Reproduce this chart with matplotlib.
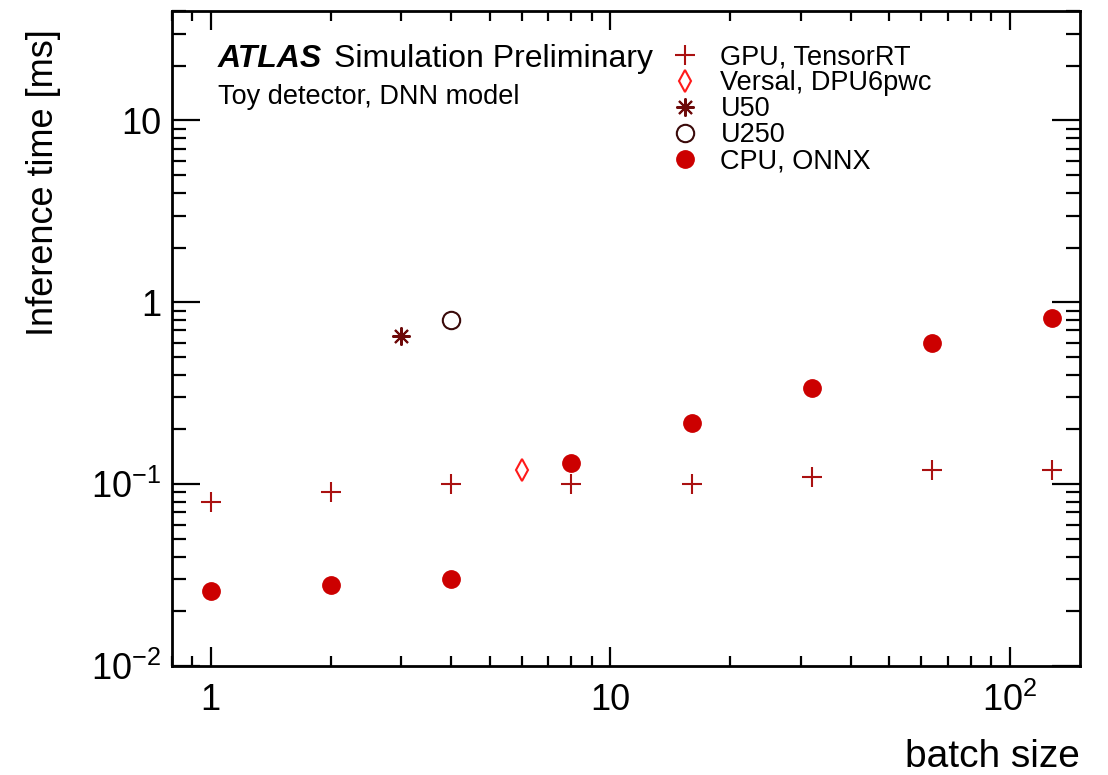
import numpy as np
import matplotlib
matplotlib.use('Agg')
import matplotlib.pyplot as plt
from matplotlib.ticker import FuncFormatter, LogLocator, NullFormatter

plt.rcParams['font.family'] = ['Liberation Sans', 'DejaVu Sans']
plt.rcParams['mathtext.fontset'] = 'custom'
plt.rcParams['mathtext.rm'] = 'Liberation Sans'
plt.rcParams['mathtext.it'] = 'Liberation Sans:italic'
plt.rcParams['mathtext.bf'] = 'Liberation Sans:bold'

# data
gpu_batch = [1, 2, 4, 8, 16, 32, 64, 128]
gpu_time = [0.08, 0.09, 0.10, 0.10, 0.10, 0.11, 0.12, 0.12]

versal_batch = [6]
versal_time = [0.12]

u50_batch = [3]
u50_time = [0.65]

u250_batch = [4]
u250_time = [0.80]

cpu_batch = [1, 2, 4, 8, 16, 32, 64, 128]
cpu_time = [0.026, 0.028, 0.030, 0.130, 0.216, 0.338, 0.596, 0.817]

fig = plt.figure(figsize=(11.08, 7.75), dpi=100)
ax = fig.add_axes([172/1108, 1-666/775, (1080-172)/1108, (666-11)/775])

ax.plot(gpu_batch, gpu_time, ls='none', marker='+', ms=15, mew=1.5,
        color='#aa1111', label='GPU, TensorRT')
ax.plot(versal_batch, versal_time, ls='none', marker='d', ms=11, mew=1.5,
        mfc='none', mec='#ff1a1a', label='Versal, DPU6pwc')
ax.plot(u50_batch, u50_time, ls='none', marker=(8, 2, 0), ms=13, mew=1.5,
        color='#6e0a0a', label='U50')
ax.plot(u250_batch, u250_time, ls='none', marker='o', ms=12.5, mew=1.5,
        mfc='none', mec='#3a0a0a', label='U250')
ax.plot(cpu_batch, cpu_time, ls='none', marker='o', ms=12.5,
        color='#cc0000', label='CPU, ONNX')

ax.set_xscale('log')
ax.set_yscale('log')
ax.set_xlim(0.8, 150)
ax.set_ylim(0.01, 40)

def logfmt(v, pos):
    if abs(v - 1) < 1e-9:
        return '1'
    if abs(v - 10) < 1e-9:
        return '10'
    e = int(round(np.log10(v)))
    return r'$\mathregular{10^{%d}}$' % e

ax.xaxis.set_major_formatter(FuncFormatter(logfmt))
ax.yaxis.set_major_formatter(FuncFormatter(logfmt))
ax.xaxis.set_minor_locator(LogLocator(base=10, subs=np.arange(2, 10), numticks=20))
ax.yaxis.set_minor_locator(LogLocator(base=10, subs=np.arange(2, 10), numticks=20))
ax.xaxis.set_minor_formatter(NullFormatter())
ax.yaxis.set_minor_formatter(NullFormatter())

ax.tick_params(which='both', direction='in', top=True, right=True, width=1.6,
               labelsize=26, color='black')
ax.tick_params(axis='x', which='major', length=14, pad=12)
ax.tick_params(axis='x', which='minor', length=7)
ax.tick_params(axis='y', which='major', length=20, pad=8)
ax.tick_params(axis='y', which='minor', length=10)
for s in ax.spines.values():
    s.set_linewidth(2)

ax.set_ylabel('Inference time [ms]', fontsize=26, ha='right')
ax.yaxis.set_label_coords(-0.122, 0.972)
ax.set_xlabel('batch size', fontsize=28, ha='right')
ax.xaxis.set_label_coords(1.0, -0.112)

fig.text(218/1108, 1-67/775, 'ATLAS', fontsize=23, fontweight='bold',
         fontstyle='italic', va='baseline')
fig.text(334/1108, 1-67/775, 'Simulation Preliminary', fontsize=23,
         va='baseline')
fig.text(218/1108, 1-104/775, 'Toy detector, DNN model', fontsize=19.5,
         va='baseline')

ax.legend(loc='upper left', bbox_to_anchor=(669/1108, 1-44/775),
          bbox_transform=fig.transFigure, frameon=False, fontsize=19.5,
          borderpad=0, labelspacing=0.0, handlelength=1.2,
          handletextpad=0.7, borderaxespad=0)

fig.savefig('out.png', dpi=100)
